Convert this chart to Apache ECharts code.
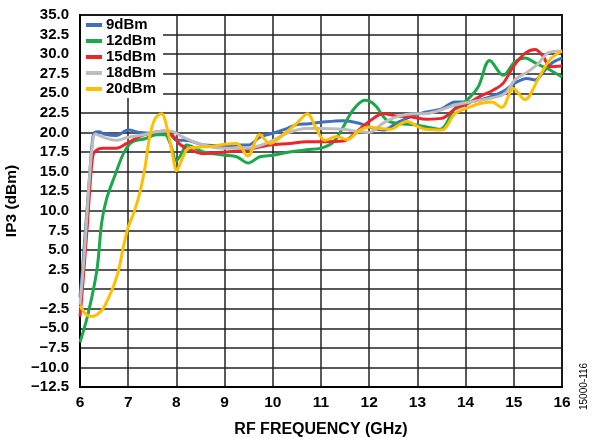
<!DOCTYPE html>
<html>
<head>
<meta charset="utf-8">
<script src="https://cdn.jsdelivr.net/npm/echarts@6/dist/echarts.min.js"></script>
<style>html,body{margin:0;padding:0;background:#fff}#c{width:600px;height:438px}</style>
</head>
<body>
<div id="c"></div>
<script>
var seriesNames = ['9dBm', '12dBm', '15dBm', '18dBm', '20dBm'];
var yTicks = [35, 32.5, 30, 27.5, 25, 22.5, 20, 17.5, 15, 12.5, 10, 7.5, 5, 2.5, 0, -2.5, -5, -7.5, -10, -12.5];
var xTicks = [6, 7, 8, 9, 10, 11, 12, 13, 14, 15, 16];

var data9 = [[6.0,-1.0],[6.05,2.5],[6.1,6.5],[6.15,10.5],[6.2,14.5],[6.25,18.5],[6.3,20.0],[6.4,20.1],[6.5,19.8],[6.75,19.6],[7.0,20.3],[7.25,20.0],[7.5,19.9],[7.75,20.1],[7.9,19.6],[8.0,19.0],[8.14,19.0],[8.3,18.9],[8.56,18.4],[9.0,18.3],[9.25,18.4],[9.49,18.4],[9.73,19.4],[10.0,19.9],[10.29,20.5],[10.5,21.0],[10.75,21.1],[11.0,21.3],[11.46,21.5],[11.77,21.2],[12.0,20.7],[12.29,20.3],[12.57,21.2],[12.85,22.0],[13.16,22.6],[13.5,23.0],[13.78,23.9],[14.02,23.9],[14.26,24.1],[14.54,24.6],[14.82,25.4],[15.02,26.3],[15.27,26.9],[15.44,26.7],[15.65,28.0],[15.82,29.0],[16.0,29.5]];
var data12 = [[6.0,-6.8],[6.17,-3.1],[6.35,2.4],[6.45,8.5],[6.55,11.5],[6.73,14.6],[6.9,17.3],[7.04,18.6],[7.17,19.0],[7.35,19.2],[7.59,19.7],[7.76,19.7],[7.87,18.6],[8.0,16.4],[8.11,17.3],[8.21,18.4],[8.56,17.5],[9.0,17.1],[9.25,16.9],[9.49,16.1],[9.73,16.9],[10.01,17.1],[10.35,17.5],[10.7,17.8],[11.0,18.0],[11.26,18.8],[11.46,20.7],[11.67,22.9],[11.91,24.1],[12.12,23.5],[12.36,21.6],[12.64,21.1],[12.92,21.0],[13.2,20.7],[13.47,20.4],[13.78,23.1],[14.02,24.1],[14.26,25.8],[14.5,29.2],[14.78,27.3],[15.02,29.0],[15.23,29.5],[15.47,28.8],[15.68,28.2],[16.0,27.1]];
var data15 = [[6.0,-3.5],[6.05,0],[6.1,4],[6.15,8],[6.2,12.5],[6.25,16.3],[6.3,17.5],[6.48,18.0],[6.76,18.0],[6.97,18.6],[7.24,19.5],[7.52,20.0],[7.73,20.2],[7.94,19.5],[8.07,18.5],[8.28,17.8],[8.56,17.3],[9.0,17.5],[9.46,17.8],[9.94,18.4],[10.35,18.6],[10.7,18.8],[11.0,18.8],[11.46,18.9],[11.74,20.1],[12.0,21.4],[12.29,22.4],[12.57,22.1],[12.85,22.0],[13.2,21.7],[13.5,21.8],[13.78,23.0],[14.02,23.6],[14.3,24.6],[14.57,25.4],[14.78,26.3],[14.99,28.4],[15.23,30.1],[15.44,30.6],[15.61,29.7],[15.75,28.4],[16.0,28.5]];
var data18 = [[6.0,-2.0],[6.05,1.5],[6.1,5.5],[6.15,10],[6.2,14.5],[6.25,18],[6.32,19.8],[6.48,19.4],[6.76,19.0],[7.0,19.4],[7.31,19.7],[7.59,20.1],[7.87,20.2],[8.14,19.4],[8.56,18.4],[9.0,18.0],[9.46,18.0],[9.94,18.8],[10.29,19.9],[10.7,20.5],[11.0,20.5],[11.46,20.4],[11.81,20.1],[12.0,20.0],[12.29,21.2],[12.57,22.0],[12.92,22.4],[13.16,22.4],[13.4,22.7],[13.78,23.5],[14.02,23.8],[14.54,24.4],[14.82,25.0],[15.02,26.7],[15.3,27.8],[15.51,28.8],[15.72,30.2],[16.0,30.4]];
var data20 = [[6.0,-2.1],[6.12,-3.2],[6.24,-3.5],[6.36,-3.2],[6.48,-2.5],[6.6,-1.0],[6.69,0.3],[6.8,2.4],[6.9,5.4],[7.0,7.9],[7.12,9.8],[7.24,12.3],[7.35,15.6],[7.45,19.6],[7.56,21.8],[7.69,22.4],[7.83,19.9],[7.94,16.5],[8.0,15.1],[8.11,16.5],[8.25,18.0],[8.42,18.1],[8.7,18.2],[9.0,18.5],[9.25,18.6],[9.48,17.0],[9.73,19.7],[9.94,18.6],[10.25,19.9],[10.5,21.2],[10.72,22.4],[10.9,20.5],[11.08,19.0],[11.33,19.5],[11.53,19.1],[11.81,20.3],[12.0,20.7],[12.22,20.5],[12.43,20.4],[12.78,21.4],[13.02,20.7],[13.16,20.4],[13.5,20.3],[13.78,22.4],[14.02,23.1],[14.3,23.7],[14.54,23.9],[14.75,23.2],[14.99,25.6],[15.23,24.2],[15.51,26.9],[15.75,29.3],[16.0,30.4]];

var allData = [data9, data12, data15, data18, data20];
var colors = ['#3f6fbf', '#1aa84b', '#e8262b', '#bdbdbd', '#ffbf00'];
var FONT = '"Liberation Sans", Arial, sans-serif';

var chart = echarts.init(document.getElementById('c'), null, {renderer: 'canvas'});
var series = seriesNames.map(function (n, i) {
  return {
    name: n, type: 'line', data: allData[i], smooth: 0.35, showSymbol: false, symbol: 'none',
    lineStyle: {color: colors[i], width: 3}, itemStyle: {color: colors[i]}, z: 3 + i
  };
});
chart.setOption({
  animation: false,
  backgroundColor: '#fff',
  grid: {left: 80, right: 38, top: 15, bottom: 51, containLabel: false, outerBoundsMode: 'none', show: true, borderColor: '#000', borderWidth: 2, backgroundColor: 'transparent'},
  legend: {
    orient: 'vertical', left: 81, top: 16, itemWidth: 16, itemHeight: 4, itemGap: 0, icon: 'rect',
    backgroundColor: '#fff', padding: [1, 7, 1, 5],
    textStyle: {fontFamily: FONT, fontWeight: 'bold', fontSize: 15, color: '#000', lineHeight: 16, padding: [0, 0, 0, -1]},
    data: seriesNames
  },
  xAxis: {
    type: 'value', min: xTicks[0], max: xTicks[xTicks.length - 1], interval: 1,
    name: 'RF FREQUENCY (GHz)', nameLocation: 'middle', nameGap: 35,
    nameTextStyle: {fontFamily: FONT, fontWeight: 'bold', fontSize: 16, color: '#000'},
    axisLine: {show: true, onZero: false, lineStyle: {color: '#000', width: 2}},
    axisTick: {show: false},
    axisLabel: {fontFamily: FONT, fontWeight: 'bold', fontSize: 15.5, color: '#000', margin: 8},
    splitLine: {show: true, lineStyle: {color: '#222', width: 1.5}}
  },
  yAxis: {
    type: 'value', min: yTicks[yTicks.length - 1], max: yTicks[0], interval: 2.5,
    name: 'IP3 (dBm)', nameLocation: 'middle', nameGap: 52, nameRotate: 90,
    nameTextStyle: {fontFamily: FONT, fontWeight: 'bold', fontSize: 15.5, color: '#000'},
    axisLine: {show: true, onZero: false, lineStyle: {color: '#000', width: 2}},
    axisTick: {show: false},
    axisLabel: {
      fontFamily: FONT, fontWeight: 'bold', fontSize: 15, color: '#000', margin: 11,
      formatter: function (v) { return v === 0 ? '0' : (v < 0 ? '\u2212' + Math.abs(v).toFixed(1) : v.toFixed(1)); }
    },
    splitLine: {show: true, lineStyle: {color: '#222', width: 1.5}}
  },
  graphic: [{
    type: 'text', x: 584, y: 410, rotation: Math.PI / 2,
    style: {text: '15000-116', fontFamily: FONT, fontSize: 10, fill: '#000', textAlign: 'left', textVerticalAlign: 'middle'}
  }],
  series: series
});
</script>
</body>
</html>
